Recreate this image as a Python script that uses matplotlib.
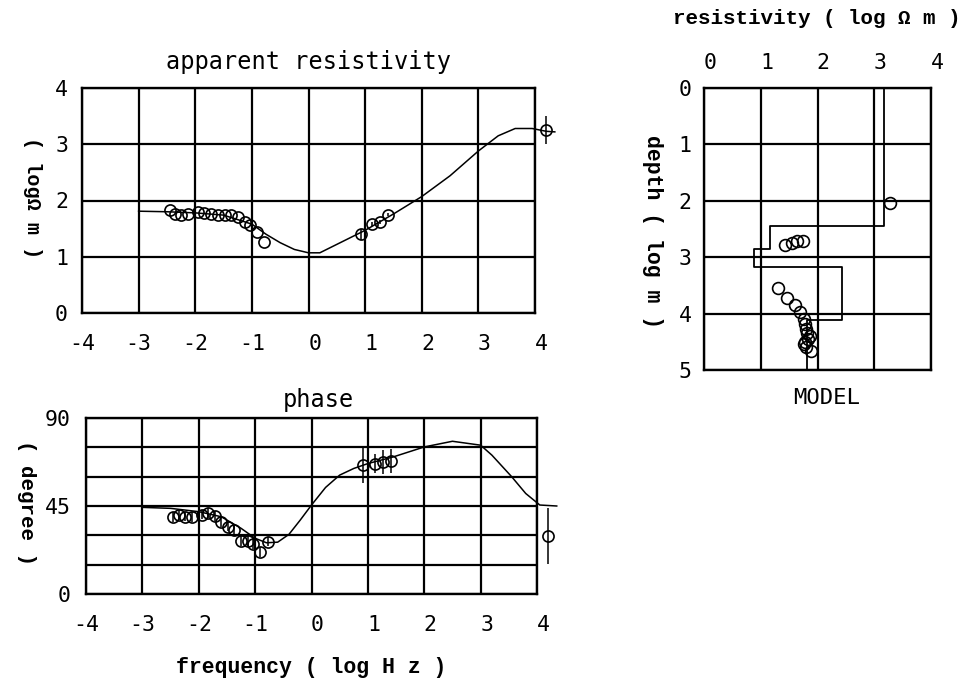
import numpy as np
import matplotlib.pyplot as plt

# ---------------------------------------------------------------------------
# Data (log10 frequency / log10 values)
# ---------------------------------------------------------------------------

# model response curves
curve_f = [-3.0, -2.5, -2.0, -1.5, -1.0, -0.75, -0.5, -0.25, 0.0, 0.2, 0.5,
           1.0, 1.5, 2.0, 2.5, 3.0, 3.35, 3.65, 3.95, 4.2, 4.35]
rho_curve = [1.81, 1.80, 1.78, 1.74, 1.58, 1.40, 1.25, 1.13, 1.07, 1.07, 1.22,
             1.47, 1.76, 2.07, 2.44, 2.88, 3.15, 3.28, 3.28, 3.23, 3.22]

phase_f = [-3.0, -2.5, -2.0, -1.6, -1.25, -1.0, -0.8, -0.6, -0.4, -0.2, 0.0,
           0.25, 0.5, 0.75, 1.0, 1.45, 2.0, 2.5, 3.0, 3.2, 3.55, 3.8, 4.05, 4.35]
phase_curve = [44.3, 43.8, 42.1, 39.5, 33.6, 28.5, 26.2, 26.5, 30.5, 37.8, 45.5,
               54.5, 60.8, 64.2, 66.7, 70.1, 75.2, 78.1, 76.1, 71.0, 60.0, 51.4,
               45.5, 45.0]

# observed data, low-frequency band
low_f = [-2.45, -2.35, -2.25, -2.12, -1.95, -1.84, -1.72, -1.60, -1.48, -1.37,
         -1.25, -1.13, -1.03, -0.91, -0.78]
low_rho = [1.84, 1.76, 1.75, 1.76, 1.80, 1.78, 1.76, 1.74, 1.74, 1.74,
           1.71, 1.62, 1.56, 1.44, 1.27]
low_phase = [39.5, 40.3, 39.6, 39.3, 40.6, 41.3, 39.8, 37.0, 34.5, 32.7,
             27.2, 27.0, 25.5, 21.5, 26.8]
low_phase_err = [2.5] * 15

# observed data, high-frequency band
high_f = [0.92, 1.12, 1.26, 1.41]
high_rho = [1.40, 1.58, 1.62, 1.75]
high_rho_err = [0.10, 0.03, 0.03, 0.03]
high_phase = [65.9, 66.7, 67.5, 68.1]
high_phase_err = [9.3, 5.0, 6.0, 6.0]

# single point beyond the plotted range
far_f = [4.2]
far_rho = [3.25]
far_rho_err = [0.25]
far_phase = [29.7]
far_phase_err = [14.5]

# layered model: resistivity (log ohm m) and layer tops (log m)
layer_rho = [3.18, 1.16, 0.88, 2.44, 1.82]
layer_top = [0.0, 2.45, 2.86, 3.17, 4.12]
model_base = 5.0

# Bostick-type transformed points (resistivity, depth)
nb_rho = [3.27, 1.43, 1.55, 1.64, 1.75,
          1.31, 1.46, 1.60, 1.70, 1.76, 1.78, 1.80, 1.82, 1.86, 1.83,
          1.78, 1.76, 1.79, 1.88]
nb_depth = [2.04, 2.78, 2.74, 2.72, 2.71,
            3.55, 3.73, 3.85, 3.97, 4.09, 4.19, 4.28, 4.35, 4.40, 4.45,
            4.50, 4.54, 4.60, 4.66]

x_ticks = list(range(-4, 5))
x_ticklabels = ["-4", "-3", "-2", "-1", " 0", " 1", " 2", " 3", " 4"]

# ---------------------------------------------------------------------------
# Style
# ---------------------------------------------------------------------------

W, H = 973, 679
TICK_FONT = "DejaVu Sans Mono"
LABEL_FONT = dict(family="Liberation Mono", weight="bold")
GRID_LW = 1.6


def px(x, y):
    return x / W, 1 - y / H


def axes_at(x0, y0, x1, y1):
    return fig.add_axes([x0 / W, 1 - y1 / H, (x1 - x0) / W, (y1 - y0) / H])


def style_axes(ax):
    for s in ax.spines.values():
        s.set_linewidth(1.7)
    ax.tick_params(which="both", length=0, labelsize=15.5)
    ax.grid(which="both", color="black", lw=GRID_LW)
    ax.set_axisbelow(True)
    for lab in ax.get_xticklabels() + ax.get_yticklabels():
        lab.set_family(TICK_FONT)


def data_points(ax, x, y, yerr=None, ms=8):
    cont = ax.errorbar(x, y, yerr=yerr, fmt="o", ms=ms, mfc="none", mec="black",
                       mew=1.2, ecolor="black", elinewidth=1.1, capsize=0)
    for art in cont.get_children():
        art.set_clip_on(False)


fig = plt.figure(figsize=(W / 100, H / 100), dpi=100)

# --- apparent resistivity -------------------------------------------------
ax1 = axes_at(82, 88, 535, 313)
ax1.plot(curve_f, rho_curve, color="black", lw=1.1, clip_on=False)
data_points(ax1, low_f, low_rho)
data_points(ax1, high_f, high_rho, high_rho_err)
data_points(ax1, far_f, far_rho, far_rho_err)
ax1.set_xlim(-4, 4)
ax1.set_ylim(0, 4)
ax1.set_xticks(x_ticks)
ax1.set_xticklabels(x_ticklabels)
ax1.set_yticks(range(0, 5))
ax1.tick_params(axis="x", pad=15)
ax1.tick_params(axis="y", pad=10)
style_axes(ax1)
fig.text(*px(308, 62), "apparent resistivity", family=TICK_FONT, fontsize=17,
         ha="center", va="center")
fig.text(*px(32, 198), "( logΩ m )", rotation=-90, fontsize=14.5,
         ha="center", va="center", **LABEL_FONT)

# --- phase ----------------------------------------------------------------
ax2 = axes_at(86, 418, 537, 594)
ax2.plot(phase_f, phase_curve, color="black", lw=1.1, clip_on=False)
data_points(ax2, low_f, low_phase, low_phase_err)
data_points(ax2, high_f, high_phase, high_phase_err)
data_points(ax2, far_f, far_phase, far_phase_err)
ax2.set_xlim(-4, 4)
ax2.set_ylim(0, 90)
ax2.set_xticks(x_ticks)
ax2.set_xticklabels(x_ticklabels)
ax2.set_yticks([0, 45, 90])
ax2.set_yticks([15, 30, 60, 75], minor=True)
ax2.tick_params(axis="x", pad=15)
ax2.tick_params(axis="y", pad=11)
style_axes(ax2)
fig.text(*px(318, 400), "phase", family=TICK_FONT, fontsize=17,
         ha="center", va="center")
fig.text(*px(311, 667), "frequency ( log H z )", fontsize=15.5,
         ha="center", va="center", **LABEL_FONT)
fig.text(*px(26, 502), "( degree )", rotation=-90, fontsize=15,
         ha="center", va="center", **LABEL_FONT)

# --- layered model --------------------------------------------------------
ax3 = axes_at(704, 88, 931, 370)
bounds = layer_top + [model_base]
step_x = np.repeat(layer_rho, 2)
step_y = np.column_stack([bounds[:-1], bounds[1:]]).ravel()
ax3.plot(step_x, step_y, color="black", lw=1.3)
ax3.plot(nb_rho, nb_depth, "o", ms=8.5, mfc="none", mec="black", mew=1.2,
         clip_on=False)
ax3.set_xlim(0, 4)
ax3.set_ylim(5, 0)
ax3.xaxis.tick_top()
ax3.set_xticks(range(0, 5))
ax3.set_xticklabels([" 0", " 1", " 2", " 3", " 4"])
ax3.set_yticks(range(0, 6))
ax3.tick_params(axis="x", pad=11)
ax3.tick_params(axis="y", pad=9)
style_axes(ax3)
fig.text(*px(817, 18), "resistivity ( log Ω m )", fontsize=15,
         ha="center", va="center", **LABEL_FONT)
fig.text(*px(652, 232), "depth ( log m )", rotation=-90, fontsize=15.5,
         ha="center", va="center", **LABEL_FONT)
fig.text(*px(827, 398), "MODEL", family=TICK_FONT, fontsize=16,
         ha="center", va="center")

fig.savefig("out.png", dpi=100)
